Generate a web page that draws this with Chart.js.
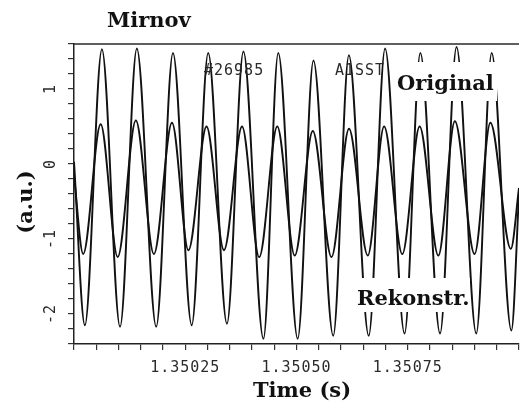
<!DOCTYPE html>
<html>
<head>
<meta charset="utf-8">
<script src="https://cdn.jsdelivr.net/npm/chart.js@4/dist/chart.umd.min.js"></script>
<style>
  html, body { margin: 0; padding: 0; background: #fff; overflow: hidden; }
  #wrap { width: 528px; height: 409px; }
</style>
</head>
<body>
<div id="wrap"><canvas id="c" width="528" height="409"></canvas></div>
<script>
// Mirnov coil A1SST, shot #26985: measured signal and its reconstruction.
// Each series is given by its turning points (time in s, amplitude in a.u.).
const timeOriginal = [
  1.3500000, 1.3500244, 1.3500627, 1.3501035, 1.3501412, 1.3501847, 1.3502224,
  1.3502645, 1.3503016, 1.3503437, 1.3503807, 1.3504257, 1.3504590, 1.3505027,
  1.3505381, 1.3505825, 1.3506177, 1.3506623, 1.3506991, 1.3507428, 1.3507783,
  1.3508226, 1.3508596, 1.3509040, 1.3509386, 1.3509829, 1.3510000
];
const valueOriginal = [
  0.03, -2.15, 1.53, -2.17, 1.54, -2.17, 1.48,
  -2.15, 1.48, -2.13, 1.50, -2.33, 1.48, -2.33,
  1.38, -2.29, 1.45, -2.29, 1.54, -2.26, 1.48,
  -2.26, 1.56, -2.26, 1.48, -2.22, -0.40
];

const timeRekonstr = [
  1.3500000, 1.3500206, 1.3500599, 1.3500982, 1.3501390, 1.3501796, 1.3502202,
  1.3502572, 1.3502978, 1.3503370, 1.3503776, 1.3504162, 1.3504568, 1.3504960,
  1.3505366, 1.3505787, 1.3506180, 1.3506601, 1.3506969, 1.3507377, 1.3507767,
  1.3508188, 1.3508559, 1.3509002, 1.3509357, 1.3509816, 1.3510000
];
const valueRekonstr = [
  -0.15, -1.20, 0.53, -1.24, 0.58, -1.20, 0.55,
  -1.15, 0.50, -1.15, 0.50, -1.24, 0.50, -1.22,
  0.44, -1.24, 0.47, -1.22, 0.50, -1.20, 0.50,
  -1.22, 0.57, -1.20, 0.55, -1.13, -0.32
];

// axis ticks
const xTickValues = [1.35025, 1.35050, 1.35075];
const xTickLabels = ['1.35025', '1.35050', '1.35075'];
const yTickValues = [1, 0, -1, -2];
const yTickLabels = ['1', '0', '-1', '-2'];

const X_MIN = 1.35000, X_MAX = 1.35100, X_STEP = 0.00005;
const Y_MIN = -2.4, Y_MAX = 1.6, Y_STEP = 0.2;

const INK = '#111';
const MONO = '15px "DejaVu Sans Mono", "Liberation Mono", monospace';
const SERIF_BOLD = 'bold 21px "DejaVu Serif", "Liberation Serif", serif';

function toPoints(ts, vs) {
  return ts.map((t, i) => ({ x: t, y: vs[i] }));
}

function evenTicks(min, max, step) {
  const n = Math.round((max - min) / step);
  const out = [];
  for (let i = 0; i <= n; i++) out.push({ value: +(min + i * step).toFixed(8) });
  return out;
}

const annotations = {
  id: 'annotations',
  beforeDraw(chart) {
    chart.ctx.letterSpacing = '1px';
  },
  afterDatasetsDraw(chart) {
    const { ctx, chartArea } = chart;
    ctx.save();

    // frame line along the top of the plot
    ctx.strokeStyle = '#2a2a2a';
    ctx.lineWidth = 1.5;
    ctx.beginPath();
    ctx.moveTo(chartArea.left, chartArea.top);
    ctx.lineTo(chartArea.right, chartArea.top);
    ctx.stroke();

    // shot / coil identifiers
    ctx.letterSpacing = '1px';
    ctx.font = MONO;
    ctx.fillStyle = '#2a2a2a';
    ctx.textAlign = 'left';
    ctx.textBaseline = 'middle';
    ctx.fillText('#26985', 204, 71);
    ctx.fillText('A1SST', 335, 71);

    // series labels on white boxes
    ctx.letterSpacing = '0px';
    ctx.fillStyle = '#fff';
    ctx.fillRect(392, 62, 105, 39);
    ctx.fillRect(353, 278, 117, 34);
    ctx.fillStyle = INK;
    ctx.font = SERIF_BOLD;
    ctx.textBaseline = 'alphabetic';
    ctx.fillText('Original', 397, 90);
    ctx.fillText('Rekonstr.', 357, 305);

    ctx.restore();
  },
  afterDraw(chart) {
    const { ctx, scales } = chart;
    ctx.save();
    ctx.letterSpacing = '0px';
    ctx.fillStyle = INK;
    ctx.font = SERIF_BOLD;
    ctx.textBaseline = 'alphabetic';
    ctx.textAlign = 'left';
    ctx.fillText('Mirnov', 107, 27);

    ctx.textAlign = 'center';
    ctx.fillText('Time (s)', 302, 397);

    ctx.save();
    ctx.translate(27, 202);
    ctx.rotate(-Math.PI / 2);
    ctx.textBaseline = 'middle';
    ctx.fillText('(a.u.)', 0, 0);
    ctx.restore();

    // rotated y tick labels
    ctx.font = MONO;
    ctx.letterSpacing = '1px';
    ctx.fillStyle = '#2a2a2a';
    yTickValues.forEach((v, i) => {
      const py = scales.y.getPixelForValue(v);
      ctx.save();
      ctx.translate(51, py);
      ctx.rotate(-Math.PI / 2);
      ctx.textAlign = 'center';
      ctx.textBaseline = 'middle';
      ctx.fillText(yTickLabels[i], 0, 0);
      ctx.restore();
    });
    ctx.restore();
    ctx.letterSpacing = '0px';
  }
};

new Chart(document.getElementById('c'), {
  type: 'line',
  data: {
    datasets: [
      {
        label: 'Original',
        data: toPoints(timeOriginal, valueOriginal),
        borderColor: INK,
        borderWidth: 1.9,
        pointRadius: 0,
        fill: false,
        cubicInterpolationMode: 'monotone',
        clip: 0
      },
      {
        label: 'Rekonstr.',
        data: toPoints(timeRekonstr, valueRekonstr),
        borderColor: INK,
        borderWidth: 1.9,
        pointRadius: 0,
        fill: false,
        cubicInterpolationMode: 'monotone',
        clip: 0
      }
    ]
  },
  options: {
    responsive: false,
    animation: false,
    devicePixelRatio: 1,
    layout: { padding: { top: 44, right: 3, left: 0, bottom: 0 } },
    plugins: {
      legend: { display: false },
      tooltip: { enabled: false },
      title: { display: false }
    },
    scales: {
      x: {
        type: 'linear',
        min: X_MIN,
        max: X_MAX,
        afterBuildTicks(scale) { scale.ticks = evenTicks(X_MIN, X_MAX, X_STEP); },
        afterFit(scale) { scale.height = 65; },
        border: { display: true, color: '#222', width: 1.5 },
        grid: { drawOnChartArea: false, drawTicks: true, tickLength: 6, color: '#333', lineWidth: 1.2 },
        ticks: {
          autoSkip: false,
          maxRotation: 0,
          minRotation: 0,
          padding: 9,
          color: '#2a2a2a',
          font: { family: '"DejaVu Sans Mono", "Liberation Mono", monospace', size: 15 },
          callback(value) {
            const k = xTickValues.findIndex(v => Math.abs(v - value) < 1e-9);
            return k >= 0 ? xTickLabels[k] : '';
          }
        }
      },
      y: {
        type: 'linear',
        min: Y_MIN,
        max: Y_MAX,
        afterBuildTicks(scale) { scale.ticks = evenTicks(Y_MIN, Y_MAX, Y_STEP); },
        afterFit(scale) { scale.width = 74; },
        border: { display: true, color: '#222', width: 1.5 },
        grid: { drawOnChartArea: false, drawTicks: true, tickLength: 6, color: '#333', lineWidth: 1.2 },
        ticks: { display: false }
      }
    }
  },
  plugins: [annotations]
});
</script>
</body>
</html>
